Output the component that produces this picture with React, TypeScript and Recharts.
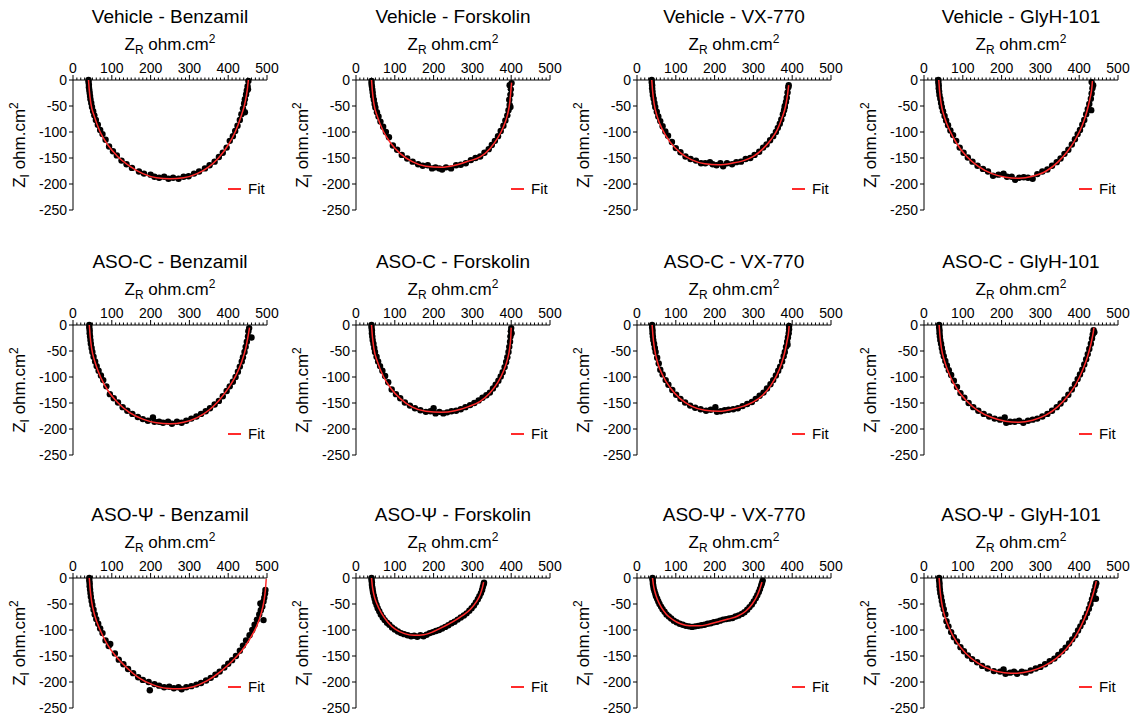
import React from 'react';
import { ComposedChart, Scatter, Line, XAxis, YAxis, Legend } from 'recharts';

type Pt = [number, number];

const FONT = '"Liberation Sans", Arial, sans-serif';
const FIT_RED = '#ff2b2b';

const xTicks = [0, 10, 20, 30, 40, 50, 60, 70, 80, 90, 100, 110, 120, 130, 140, 150, 160, 170, 180, 190, 200, 210, 220, 230, 240, 250, 260, 270, 280, 290, 300, 310, 320, 330, 340, 350, 360, 370, 380, 390, 400, 410, 420, 430, 440, 450, 460, 470, 480, 490, 500];
const yTicks = [0, -50, -100, -150, -200, -250];

const rowNames = ['Vehicle', 'ASO-C', 'ASO-\u03A8'];
const drugNames = ['Benzamil', 'Forskolin', 'VX-770', 'GlyH-101'];

// Vehicle
const vehBenzDots: Pt[] = [[40,0],[40,-4],[41,-9],[41,-14],[42,-19],[43,-25],[44,-31],[45,-37],[47,-44],[49,-52],[52,-60],[55,-68],[59,-77],[64,-86],[70,-96],[76,-104],[84,-115],[93,-128],[103,-137],[113,-145],[125,-155],[138,-162],[152,-169],[170,-176],[183,-180],[200,-182],[210,-186],[222,-188],[235,-186],[246,-190],[258,-188],[272,-190],[285,-186],[298,-185],[312,-180],[325,-176],[340,-170],[352,-164],[365,-157],[376,-148],[386,-140],[396,-130],[404,-117],[412,-108],[418,-98],[424,-88],[430,-77],[434,-66],[438,-55],[441,-45],[443,-37],[446,-28],[448,-20],[450,-12],[452,-2],[443,-62],[451,-18]];
const vehBenzFit: Pt[] = [[40,0],[42,-20],[46,-45],[55,-70],[70,-100],[90,-125],[115,-147],[145,-165],[180,-180],[215,-188],[250,-190],[285,-188],[320,-180],[350,-167],[375,-150],[400,-125],[418,-100],[433,-70],[443,-45],[449,-20],[452,0]];

const vehForsDots: Pt[] = [[40,-2],[40,-7],[41,-12],[42,-18],[43,-24],[44,-31],[46,-38],[48,-46],[50,-53],[54,-62],[58,-70],[63,-80],[70,-90],[77,-100],[85,-110],[95,-126],[106,-134],[118,-144],[132,-151],[146,-157],[160,-162],[172,-165],[185,-164],[196,-170],[205,-168],[215,-170],[222,-172],[232,-168],[245,-170],[258,-164],[270,-163],[283,-160],[296,-154],[308,-150],[320,-147],[331,-140],[342,-133],[350,-125],[358,-117],[366,-108],[373,-98],[380,-88],[385,-78],[390,-68],[393,-58],[396,-48],[398,-52],[395,-38],[398,-28],[399,-18],[396,-10],[401,-6]];
const vehForsFit: Pt[] = [[40,0],[42,-20],[46,-45],[55,-70],[70,-98],[90,-122],[115,-142],[145,-157],[180,-166],[220,-168],[255,-164],[290,-156],[320,-148],[345,-132],[365,-112],[380,-90],[390,-68],[396,-45],[399,-22],[401,-5]];

const vehVxDots: Pt[] = [[38,0],[38,-5],[39,-10],[39,-16],[40,-22],[41,-29],[43,-36],[45,-44],[47,-52],[51,-61],[55,-70],[60,-79],[66,-89],[73,-99],[80,-107],[90,-119],[100,-131],[112,-139],[125,-147],[138,-152],[152,-155],[165,-160],[176,-160],[188,-158],[195,-162],[205,-164],[215,-160],[222,-166],[232,-160],[245,-162],[256,-158],[268,-157],[280,-152],[292,-150],[303,-144],[315,-138],[325,-130],[334,-124],[343,-116],[351,-108],[358,-100],[363,-92],[368,-84],[372,-76],[376,-66],[379,-58],[381,-50],[384,-42],[386,-34],[388,-24],[390,-14],[391,-10],[381,-52]];
const vehVxFit: Pt[] = [[38,0],[40,-20],[44,-45],[52,-70],[66,-96],[86,-120],[112,-140],[140,-153],[175,-161],[210,-163],[245,-160],[275,-155],[300,-147],[325,-132],[345,-115],[362,-95],[374,-72],[383,-50],[388,-28],[391,-10]];

const vehGlyDots: Pt[] = [[37,0],[37,-5],[38,-10],[38,-16],[39,-22],[40,-29],[42,-36],[44,-44],[46,-52],[49,-60],[53,-69],[57,-78],[62,-87],[68,-97],[75,-106],[83,-117],[92,-130],[102,-140],[113,-149],[125,-157],[138,-165],[152,-171],[165,-176],[178,-184],[192,-182],[205,-180],[214,-186],[226,-186],[235,-192],[245,-188],[257,-187],[268,-188],[280,-190],[292,-181],[305,-176],[318,-172],[330,-165],[342,-158],[352,-151],[362,-142],[372,-134],[381,-124],[389,-114],[396,-104],[402,-96],[408,-86],[413,-77],[418,-66],[422,-56],[426,-46],[430,-36],[432,-26],[434,-16],[436,-10],[432,-4],[431,-58]];
const vehGlyFit: Pt[] = [[38,0],[40,-20],[44,-45],[53,-72],[67,-98],[86,-124],[110,-147],[140,-166],[175,-180],[210,-187],[245,-189],[280,-185],[315,-175],[345,-158],[370,-137],[392,-112],[408,-87],[420,-60],[428,-35],[433,-12],[434,-2]];

// ASO-C
const ascBenzDots: Pt[] = [[42,0],[42,-5],[43,-10],[43,-16],[44,-22],[45,-29],[46,-36],[48,-44],[50,-52],[53,-61],[57,-70],[61,-79],[66,-88],[72,-97],[78,-106],[86,-118],[95,-133],[105,-141],[116,-149],[128,-158],[140,-165],[153,-171],[167,-177],[180,-181],[193,-184],[206,-178],[210,-186],[222,-186],[232,-188],[245,-186],[255,-190],[268,-186],[280,-188],[292,-184],[305,-180],[318,-176],[330,-171],[342,-166],[353,-160],[365,-153],[376,-146],[386,-137],[396,-127],[404,-118],[412,-109],[419,-100],[425,-90],[430,-80],[435,-70],[438,-62],[442,-52],[445,-42],[448,-32],[451,-22],[452,-12],[454,-6],[460,-24]];
const ascBenzFit: Pt[] = [[42,0],[44,-20],[48,-45],[57,-72],[71,-100],[90,-126],[115,-149],[145,-168],[180,-181],[215,-188],[250,-190],[285,-187],[320,-178],[350,-164],[375,-146],[400,-122],[420,-97],[435,-70],[446,-42],[452,-18],[455,-5]];

const ascForsDots: Pt[] = [[40,0],[40,-5],[41,-10],[41,-16],[42,-22],[43,-29],[45,-36],[47,-44],[49,-52],[53,-61],[57,-70],[62,-79],[68,-88],[75,-98],[83,-110],[92,-124],[103,-133],[114,-141],[126,-149],[139,-155],[152,-160],[166,-164],[180,-167],[192,-166],[200,-160],[205,-170],[215,-167],[225,-170],[235,-168],[246,-166],[258,-165],[270,-162],[282,-158],[294,-154],[305,-150],[316,-145],[326,-140],[336,-135],[345,-130],[353,-122],[360,-115],[367,-107],[373,-99],[378,-91],[383,-81],[387,-71],[390,-62],[393,-52],[395,-42],[397,-32],[398,-22],[399,-12],[400,-6],[401,-16]];
const ascForsFit: Pt[] = [[40,0],[42,-20],[46,-45],[55,-70],[70,-98],[90,-122],[115,-142],[145,-158],[180,-166],[220,-168],[255,-165],[290,-157],[320,-147],[345,-131],[365,-111],[380,-89],[390,-67],[396,-45],[399,-22],[400,-5]];

const ascVxDots: Pt[] = [[39,0],[39,-5],[40,-10],[40,-16],[41,-22],[42,-29],[44,-36],[46,-44],[48,-52],[52,-63],[56,-74],[60,-86],[66,-95],[74,-106],[81,-115],[91,-125],[101,-134],[112,-142],[124,-149],[137,-155],[150,-159],[164,-162],[178,-165],[190,-163],[202,-158],[206,-167],[216,-166],[226,-164],[236,-163],[248,-162],[260,-160],[272,-156],[284,-152],[296,-148],[306,-142],[316,-136],[326,-130],[335,-122],[344,-114],[351,-106],[358,-97],[364,-88],[369,-80],[374,-70],[378,-60],[381,-52],[384,-42],[387,-32],[389,-24],[391,-16],[392,-8],[392,-2],[388,-38]];
const ascVxFit: Pt[] = [[39,0],[41,-20],[45,-45],[53,-72],[67,-98],[87,-122],[112,-142],[140,-156],[175,-164],[212,-166],[245,-162],[275,-156],[300,-148],[325,-134],[345,-116],[360,-97],[372,-75],[381,-52],[387,-30],[391,-12],[392,-2]];

const ascGlyDots: Pt[] = [[39,0],[39,-5],[40,-10],[40,-16],[41,-22],[42,-29],[44,-36],[46,-44],[48,-52],[51,-60],[55,-69],[59,-78],[64,-87],[70,-96],[77,-107],[85,-119],[94,-131],[104,-140],[115,-150],[127,-158],[140,-165],[154,-171],[168,-176],[182,-180],[196,-182],[208,-178],[212,-188],[222,-186],[234,-186],[245,-184],[256,-188],[268,-184],[280,-182],[292,-180],[305,-176],[318,-171],[330,-165],[342,-158],[352,-151],[362,-143],[372,-134],[381,-124],[389,-114],[396,-104],[402,-95],[408,-86],[413,-76],[418,-66],[422,-56],[426,-46],[430,-36],[433,-26],[435,-18],[437,-10],[439,-14]];
const ascGlyFit: Pt[] = [[39,0],[41,-20],[45,-45],[54,-72],[67,-98],[86,-124],[110,-146],[140,-165],[175,-178],[210,-185],[245,-187],[280,-183],[315,-173],[345,-157],[370,-137],[392,-113],[408,-88],[421,-62],[430,-37],[436,-15],[438,-5]];

// ASO-Psi
const aspBenzDots: Pt[] = [[42,0],[42,-5],[43,-10],[43,-16],[44,-22],[45,-29],[46,-36],[48,-44],[50,-52],[53,-61],[56,-70],[60,-79],[65,-88],[70,-97],[76,-106],[84,-120],[92,-131],[96,-127],[108,-145],[118,-157],[130,-166],[142,-175],[155,-183],[168,-191],[180,-196],[195,-200],[198,-216],[210,-204],[222,-207],[235,-210],[248,-209],[260,-212],[272,-210],[280,-214],[292,-210],[305,-208],[318,-205],[330,-202],[343,-197],[355,-192],[367,-186],[378,-180],[390,-172],[400,-165],[410,-158],[420,-150],[430,-140],[438,-130],[446,-120],[455,-110],[462,-100],[468,-90],[474,-80],[480,-70],[484,-62],[483,-49],[488,-55],[491,-45],[493,-38],[491,-81],[495,-30],[496,-23]];
const aspBenzFit: Pt[] = [[42,0],[44,-20],[48,-45],[56,-72],[70,-100],[88,-127],[110,-150],[138,-172],[170,-192],[205,-205],[240,-212],[275,-213],[310,-209],[345,-198],[380,-180],[410,-160],[435,-140],[455,-118],[472,-95],[485,-68],[492,-45],[496,-22],[498,-2]];

const aspForsDots: Pt[] = [[40,0],[40,-4],[41,-8],[41,-13],[42,-18],[43,-23],[44,-28],[46,-34],[48,-40],[50,-46],[53,-52],[56,-58],[60,-64],[64,-70],[69,-76],[74,-81],[80,-86],[86,-90],[93,-95],[100,-99],[108,-103],[116,-106],[124,-108],[133,-110],[142,-112],[150,-111],[158,-113],[166,-110],[174,-112],[182,-109],[190,-106],[198,-104],[206,-102],[214,-100],[222,-97],[230,-94],[238,-91],[246,-87],[254,-84],[262,-80],[270,-76],[278,-72],[285,-68],[292,-63],[298,-58],[304,-53],[309,-47],[314,-41],[318,-35],[322,-29],[325,-23],[327,-17],[329,-12],[330,-9]];
const aspForsFit: Pt[] = [[40,0],[42,-15],[46,-32],[54,-50],[66,-68],[82,-85],[102,-99],[125,-107],[150,-110],[175,-109],[200,-103],[225,-94],[250,-84],[275,-72],[295,-60],[310,-46],[320,-32],[326,-18],[329,-8]];

const aspVxDots: Pt[] = [[40,0],[40,-3],[41,-7],[41,-11],[42,-15],[43,-20],[45,-25],[47,-30],[49,-35],[52,-40],[55,-45],[58,-50],[62,-55],[66,-60],[71,-65],[76,-70],[82,-74],[88,-78],[95,-82],[102,-85],[110,-88],[118,-90],[126,-92],[134,-93],[142,-94],[150,-93],[158,-92],[166,-91],[174,-90],[182,-88],[190,-87],[198,-85],[206,-84],[214,-82],[222,-80],[230,-79],[238,-78],[246,-77],[254,-74],[262,-72],[270,-69],[277,-66],[284,-61],[290,-56],[296,-51],[301,-45],[306,-39],[310,-33],[314,-27],[317,-21],[320,-15],[322,-10],[324,-5]];
const aspVxFit: Pt[] = [[40,0],[42,-12],[46,-26],[53,-42],[63,-57],[76,-70],[92,-80],[112,-88],[135,-92],[160,-92],[185,-89],[210,-84],[235,-79],[260,-73],[280,-64],[297,-50],[309,-35],[317,-20],[322,-8]];

const aspGlyDots: Pt[] = [[39,0],[39,-5],[40,-10],[40,-16],[41,-22],[42,-29],[44,-36],[46,-44],[48,-52],[51,-60],[55,-70],[58,-83],[63,-93],[70,-104],[77,-114],[85,-122],[94,-133],[103,-141],[113,-149],[124,-156],[137,-162],[150,-169],[164,-174],[180,-179],[196,-180],[205,-176],[210,-184],[222,-182],[232,-180],[240,-184],[252,-180],[262,-182],[275,-178],[288,-174],[300,-171],[312,-166],[324,-160],[336,-155],[346,-148],[356,-141],[365,-134],[374,-126],[382,-118],[390,-110],[397,-101],[403,-93],[409,-85],[415,-76],[420,-68],[425,-59],[429,-50],[433,-41],[436,-32],[439,-24],[442,-16],[444,-10],[443,-40]];
const aspGlyFit: Pt[] = [[39,0],[41,-20],[45,-45],[53,-72],[66,-98],[84,-123],[108,-145],[138,-163],[172,-176],[207,-182],[240,-183],[275,-179],[310,-169],[340,-155],[366,-137],[388,-115],[405,-92],[419,-68],[430,-45],[438,-25],[443,-10],[444,-6]];

const dotSets: Pt[][][] = [
  [vehBenzDots, vehForsDots, vehVxDots, vehGlyDots],
  [ascBenzDots, ascForsDots, ascVxDots, ascGlyDots],
  [aspBenzDots, aspForsDots, aspVxDots, aspGlyDots],
];
const fitSets: Pt[][][] = [
  [vehBenzFit, vehForsFit, vehVxFit, vehGlyFit],
  [ascBenzFit, ascForsFit, ascVxFit, ascGlyFit],
  [aspBenzFit, aspForsFit, aspVxFit, aspGlyFit],
];

// plot-area origin of each panel on the page
const COL_X = [73, 356, 637, 924];
const ROW_Y = [80, 325, 578];
const W = 280;
const H = 222;

const toObjs = (a: Pt[]) => a.map(([x, y]) => ({ x, y }));

const XTick = (props: any) => {
  const { x, y, payload } = props;
  const major = payload.value % 100 === 0;
  return (
    <g>
      <line x1={x} x2={x} y1={y} y2={y - (major ? 5 : 2.5)} stroke="#000" strokeWidth={1} />
      {major && (
        <text x={x} y={y - 7} textAnchor="middle" fontSize={14} fontFamily={FONT} fill="#000">
          {payload.value}
        </text>
      )}
    </g>
  );
};

const TopLabels = ({ title }: { title: string }) => (
  <g fontFamily={FONT} fill="#000">
    <text x={170} y={23} textAnchor="middle" fontSize={19}>{title}</text>
    <text x={170} y={50} textAnchor="middle" fontSize={17}>
      Z<tspan fontSize={12} dy={4}>R</tspan>
      <tspan dy={-4}> ohm.cm</tspan>
      <tspan fontSize={12} dy={-7}>2</tspan>
    </text>
  </g>
);

const SideLabel = () => (
  <text x={25} y={145} transform="rotate(-90, 25, 145)" textAnchor="middle" fontSize={17} fontFamily={FONT} fill="#000">
    Z<tspan fontSize={12} dy={4}>I</tspan>
    <tspan dy={-4}> ohm.cm</tspan>
    <tspan fontSize={12} dy={-7}>2</tspan>
  </text>
);

const FitLegend = () => (
  <div style={{ display: 'flex', alignItems: 'center', fontFamily: FONT, fontSize: 15, color: '#000', lineHeight: '18px' }}>
    <span style={{ display: 'inline-block', width: 13, borderTop: `2px solid ${FIT_RED}`, marginRight: 7 }} />
    Fit
  </div>
);

const Dot = (props: any) => <circle cx={props.cx} cy={props.cy} r={3.2} fill="#000" />;

function Panel({ row, col }: { row: number; col: number }) {
  const title = `${rowNames[row]} - ${drugNames[col]}`;
  return (
    <div style={{ position: 'absolute', left: COL_X[col] - 73, top: ROW_Y[row] - 80, width: W, height: H }}>
      <ComposedChart width={W} height={H} margin={{ top: 50, left: 28, right: 13, bottom: 12 }}>
        <XAxis
          type="number"
          dataKey="x"
          orientation="top"
          domain={[0, 500]}
          ticks={xTicks}
          interval={0}
          height={30}
          tickSize={0}
          tickMargin={0}
          tickLine={false}
          tick={<XTick />}
          axisLine={{ stroke: '#000' }}
          label={<TopLabels title={title} />}
        />
        <YAxis
          type="number"
          dataKey="y"
          domain={[-250, 0]}
          ticks={yTicks}
          interval={0}
          width={45}
          tickSize={4}
          tickMargin={2}
          tickLine={{ stroke: '#000' }}
          axisLine={{ stroke: '#000' }}
          tick={{ fill: '#000', fontSize: 14, fontFamily: FONT }}
          label={<SideLabel />}
        />
        <Scatter data={toObjs(dotSets[row][col])} shape={<Dot />} isAnimationActive={false} zIndex={500} />
        <Line
          data={toObjs(fitSets[row][col])}
          dataKey="y"
          type="monotone"
          stroke={FIT_RED}
          strokeWidth={1.5}
          dot={false}
          isAnimationActive={false}
          zIndex={700}
        />
        <Legend
          layout="horizontal"
          align="center"
          verticalAlign="middle"
          content={() => <FitLegend />}
          wrapperStyle={{ left: 228, top: 180, width: 'auto' }}
        />
      </ComposedChart>
    </div>
  );
}

export default function App() {
  return (
    <div style={{ position: 'absolute', left: 0, top: 0, width: 1135, height: 715, overflow: 'hidden', background: '#fff' }}>
      {[0, 1, 2].map((r) => [0, 1, 2, 3].map((c) => <Panel key={`${r}-${c}`} row={r} col={c} />))}
    </div>
  );
}
